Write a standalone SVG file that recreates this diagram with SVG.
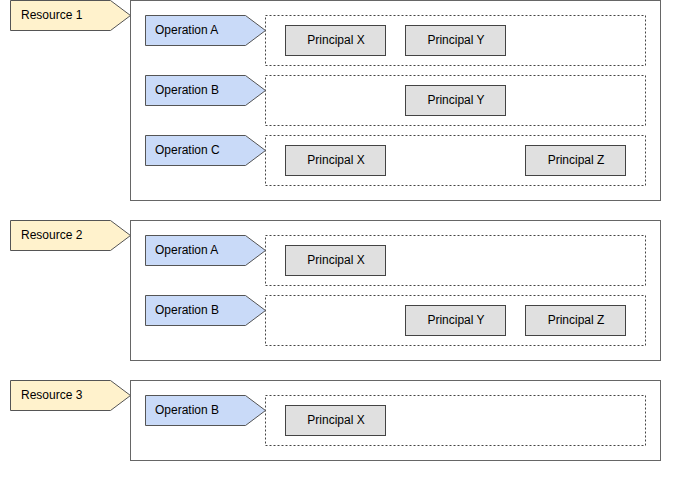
<svg xmlns="http://www.w3.org/2000/svg" width="680" height="480" viewBox="0 0 680 480">
<style>
text{font-family:"Liberation Sans",Arial,sans-serif;font-size:12px;fill:#000}
.outer{fill:#fff;stroke:#666;stroke-width:1}
.res{fill:#fff2cc;stroke:#555;stroke-width:1}
.op{fill:#c9daf8;stroke:#555;stroke-width:1}
.dash{fill:none;stroke:#444;stroke-width:1;stroke-dasharray:2,2}
.pr{fill:#e0e0e0;stroke:#444;stroke-width:1}
.c{text-anchor:middle}
</style>
<rect width="680" height="480" fill="#fff"/>
<g id="resource1">
<rect class="outer" x="130.5" y="0.5" width="530" height="200"/>
<path class="res" d="M10.5,0.5H110.5L130.5,15.5L110.5,30.5H10.5Z"/>
<text x="21" y="19">Resource 1</text>
</g>
<g id="r1-opA">
<rect class="dash" x="265.5" y="15.5" width="380" height="50"/>
<path class="op" d="M145.5,15.5H245.5L265.5,30.5L245.5,45.5H145.5Z"/>
<text x="155" y="34">Operation A</text>
</g>
<g id="r1-opA-px"><rect class="pr" x="285.5" y="25.5" width="100" height="30"/><text class="c" x="336" y="44">Principal X</text></g>
<g id="r1-opA-py"><rect class="pr" x="405.5" y="25.5" width="100" height="30"/><text class="c" x="456" y="44">Principal Y</text></g>
<g id="r1-opB">
<rect class="dash" x="265.5" y="75.5" width="380" height="50"/>
<path class="op" d="M145.5,75.5H245.5L265.5,90.5L245.5,105.5H145.5Z"/>
<text x="155" y="94">Operation B</text>
</g>
<g id="r1-opB-py"><rect class="pr" x="405.5" y="85.5" width="100" height="30"/><text class="c" x="456" y="104">Principal Y</text></g>
<g id="r1-opC">
<rect class="dash" x="265.5" y="135.5" width="380" height="50"/>
<path class="op" d="M145.5,135.5H245.5L265.5,150.5L245.5,165.5H145.5Z"/>
<text x="155" y="154">Operation C</text>
</g>
<g id="r1-opC-px"><rect class="pr" x="285.5" y="145.5" width="100" height="30"/><text class="c" x="336" y="164">Principal X</text></g>
<g id="r1-opC-pz"><rect class="pr" x="525.5" y="145.5" width="100" height="30"/><text class="c" x="576" y="164">Principal Z</text></g>

<g id="resource2">
<rect class="outer" x="130.5" y="220.5" width="530" height="140"/>
<path class="res" d="M10.5,220.5H110.5L130.5,235.5L110.5,250.5H10.5Z"/>
<text x="21" y="239">Resource 2</text>
</g>
<g id="r2-opA">
<rect class="dash" x="265.5" y="235.5" width="380" height="50"/>
<path class="op" d="M145.5,235.5H245.5L265.5,250.5L245.5,265.5H145.5Z"/>
<text x="155" y="254">Operation A</text>
</g>
<g id="r2-opA-px"><rect class="pr" x="285.5" y="245.5" width="100" height="30"/><text class="c" x="336" y="264">Principal X</text></g>
<g id="r2-opB">
<rect class="dash" x="265.5" y="295.5" width="380" height="50"/>
<path class="op" d="M145.5,295.5H245.5L265.5,310.5L245.5,325.5H145.5Z"/>
<text x="155" y="314">Operation B</text>
</g>
<g id="r2-opB-py"><rect class="pr" x="405.5" y="305.5" width="100" height="30"/><text class="c" x="456" y="324">Principal Y</text></g>
<g id="r2-opB-pz"><rect class="pr" x="525.5" y="305.5" width="100" height="30"/><text class="c" x="576" y="324">Principal Z</text></g>

<g id="resource3">
<rect class="outer" x="130.5" y="380.5" width="530" height="80"/>
<path class="res" d="M10.5,380.5H110.5L130.5,395.5L110.5,410.5H10.5Z"/>
<text x="21" y="399">Resource 3</text>
</g>
<g id="r3-opB">
<rect class="dash" x="265.5" y="395.5" width="380" height="50"/>
<path class="op" d="M145.5,395.5H245.5L265.5,410.5L245.5,425.5H145.5Z"/>
<text x="155" y="414">Operation B</text>
</g>
<g id="r3-opB-px"><rect class="pr" x="285.5" y="405.5" width="100" height="30"/><text class="c" x="336" y="424">Principal X</text></g>
<g id="connectors"/>
</svg>
